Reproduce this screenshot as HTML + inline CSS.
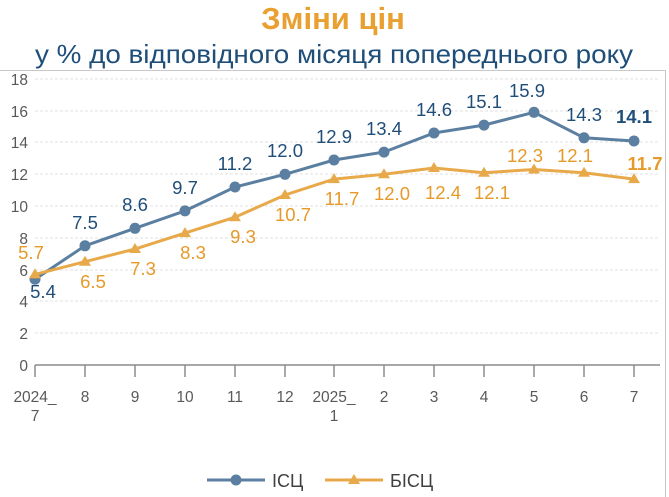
<!DOCTYPE html>
<html><head><meta charset="utf-8"><style>
body{margin:0;background:#fff;}
svg{display:block;font-family:"Liberation Sans",sans-serif;}
</style></head><body>
<svg width="669" height="497" viewBox="0 0 669 497">
<text x="333" y="29" text-anchor="middle" font-size="31" font-weight="bold" fill="#e9a030">Зміни цін</text>
<text x="334" y="63" text-anchor="middle" font-size="26" fill="#1f4e79" textLength="598" lengthAdjust="spacingAndGlyphs">у % до відповідного місяця попереднього року</text>
<line x1="0" y1="70.5" x2="665.5" y2="70.5" stroke="#c8c8c8"/>
<line x1="665.5" y1="70" x2="665.5" y2="497" stroke="#c8c8c8"/>
<g stroke="#e0e0e0" stroke-dasharray="3,2">
<line x1="35" x2="660" y1="79" y2="79"/><line x1="35" x2="660" y1="111" y2="111"/>
<line x1="35" x2="660" y1="142" y2="142"/><line x1="35" x2="660" y1="174" y2="174"/>
<line x1="35" x2="660" y1="206" y2="206"/><line x1="35" x2="660" y1="238" y2="238"/>
<line x1="35" x2="660" y1="270" y2="270"/><line x1="35" x2="660" y1="301" y2="301"/>
<line x1="35" x2="660" y1="333" y2="333"/>
</g>
<g font-size="15.5" fill="#595959" text-anchor="end">
<text x="28" y="371">0</text><text x="28" y="339">2</text><text x="28" y="307">4</text>
<text x="28" y="276">6</text><text x="28" y="244">8</text><text x="28" y="212">10</text>
<text x="28" y="180">12</text><text x="28" y="148">14</text><text x="28" y="117">16</text><text x="28" y="85">18</text>
</g>
<g stroke="#8c8c8c" stroke-width="1.5">
<line x1="35" x2="660" y1="365" y2="365"/>
<line x1="35" x2="35" y1="365" y2="377"/><line x1="85" x2="85" y1="365" y2="377"/>
<line x1="135" x2="135" y1="365" y2="377"/><line x1="185" x2="185" y1="365" y2="377"/>
<line x1="235" x2="235" y1="365" y2="377"/><line x1="285" x2="285" y1="365" y2="377"/>
<line x1="334" x2="334" y1="365" y2="377"/><line x1="384" x2="384" y1="365" y2="377"/>
<line x1="434" x2="434" y1="365" y2="377"/><line x1="484" x2="484" y1="365" y2="377"/>
<line x1="534" x2="534" y1="365" y2="377"/><line x1="584" x2="584" y1="365" y2="377"/>
<line x1="634" x2="634" y1="365" y2="377"/>
</g>
<g font-size="15.5" fill="#595959" text-anchor="middle">
<text x="35" y="402">2024_</text><text x="35" y="421">7</text>
<text x="85" y="402">8</text><text x="135" y="402">9</text><text x="185" y="402">10</text>
<text x="235" y="402">11</text><text x="285" y="402">12</text>
<text x="334" y="402">2025_</text><text x="334" y="421">1</text>
<text x="384" y="402">2</text><text x="434" y="402">3</text><text x="484" y="402">4</text>
<text x="534" y="402">5</text><text x="584" y="402">6</text><text x="634" y="402">7</text>
</g>
<polyline fill="none" stroke="#5b7fa0" stroke-width="3" points="35,279.2 85,245.8 135,228.3 185,210.9 235,187.0 285,174.3 334,160.0 384,152.1 434,133.0 484,125.1 534,112.3 584,137.8 634,141.0"/>
<g fill="#5b7fa0">
<circle cx="35" cy="279.2" r="5.5"/><circle cx="85" cy="245.8" r="5.5"/><circle cx="135" cy="228.3" r="5.5"/>
<circle cx="185" cy="210.9" r="5.5"/><circle cx="235" cy="187" r="5.5"/><circle cx="285" cy="174.3" r="5.5"/>
<circle cx="334" cy="160" r="5.5"/><circle cx="384" cy="152.1" r="5.5"/><circle cx="434" cy="133" r="5.5"/>
<circle cx="484" cy="125.1" r="5.5"/><circle cx="534" cy="112.3" r="5.5"/><circle cx="584" cy="137.8" r="5.5"/>
<circle cx="634" cy="141" r="5.5"/>
</g>
<polyline fill="none" stroke="#e8a94a" stroke-width="3" points="35,274.4 85,261.7 135,249.0 185,233.1 235,217.2 285,195.0 334,179.1 384,174.3 434,168.0 484,172.7 534,169.5 584,172.7 634,179.1"/>
<g fill="#e8a94a">
<path d="M35,268.4l6,10h-12z"/><path d="M85,255.7l6,10h-12z"/><path d="M135,243l6,10h-12z"/>
<path d="M185,227.1l6,10h-12z"/><path d="M235,211.2l6,10h-12z"/><path d="M285,189l6,10h-12z"/>
<path d="M334,173.1l6,10h-12z"/><path d="M384,168.3l6,10h-12z"/><path d="M434,162l6,10h-12z"/>
<path d="M484,166.7l6,10h-12z"/><path d="M534,163.5l6,10h-12z"/><path d="M584,166.7l6,10h-12z"/>
<path d="M634,173.1l6,10h-12z"/>
</g>
<g font-size="18.5" fill="#1f4e79" text-anchor="middle">
<text x="43" y="298">5.4</text><text x="85" y="229">7.5</text><text x="135" y="211">8.6</text>
<text x="185" y="194">9.7</text><text x="235" y="170">11.2</text><text x="285" y="157">12.0</text>
<text x="334" y="143">12.9</text><text x="384" y="135">13.4</text><text x="434" y="116">14.6</text>
<text x="484" y="108">15.1</text><text x="527" y="97">15.9</text><text x="584" y="121">14.3</text>
<text x="634" y="123" font-weight="bold">14.1</text>
</g>
<g font-size="18.5" fill="#e69a2a" text-anchor="middle">
<text x="31" y="259">5.7</text><text x="93" y="288">6.5</text><text x="143" y="275">7.3</text>
<text x="193" y="259">8.3</text><text x="243" y="243">9.3</text><text x="293" y="221">10.7</text>
<text x="342" y="205">11.7</text><text x="392" y="200">12.0</text><text x="443" y="199">12.4</text>
<text x="492" y="199">12.1</text><text x="525" y="162">12.3</text><text x="575" y="162">12.1</text>
<text x="645" y="170" font-weight="bold">11.7</text>
</g>
<line x1="207" x2="265" y1="480" y2="480" stroke="#5b7fa0" stroke-width="3"/>
<circle cx="236" cy="480" r="5.5" fill="#5b7fa0"/>
<text x="272" y="487" font-size="18" fill="#404040">ІСЦ</text>
<line x1="325" x2="383" y1="480" y2="480" stroke="#e8a94a" stroke-width="3"/>
<path d="M354,474l6,10h-12z" fill="#e8a94a"/>
<text x="390" y="487" font-size="18" fill="#404040">БІСЦ</text>
</svg>
</body></html>
